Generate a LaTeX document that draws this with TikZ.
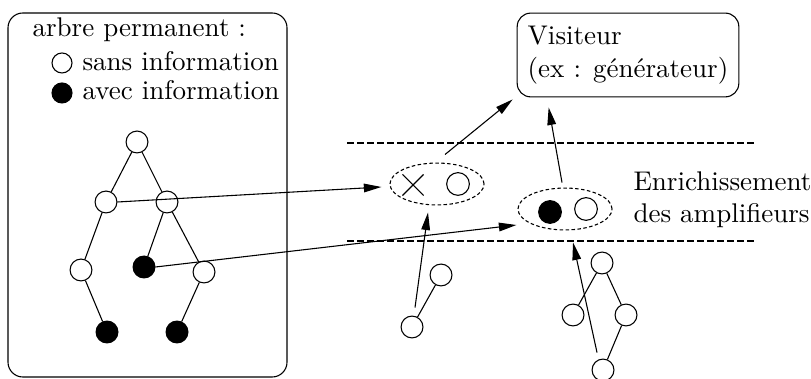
\documentclass[tikz,border=0pt]{standalone}
\usetikzlibrary{arrows.meta, shapes.geometric, shapes.misc}

\begin{document}
\begin{tikzpicture}[
    x=0.37pt, y=-0.37pt,
    vide/.style={circle, draw, fill=white, minimum size=8.1pt, inner sep=0pt},
    plein/.style={circle, draw, fill=black, minimum size=8.1pt, inner sep=0pt},
    groupe/.style={ellipse, draw, dash pattern=on 1.3pt off 0.9pt, minimum width=34.8pt, minimum height=15.5pt, inner sep=0pt},
    fleche/.style={-{Triangle[length=6.5pt, width=3.2pt]}},
    texte/.style={anchor=base west, inner sep=0pt},
]
    \useasboundingbox (0,0) rectangle (811,379);

    % arbre permanent
    \draw[rounded corners=5.5pt] (8,13) rectangle (287,377);
    \node[texte] (titre) at (32,37) {arbre permanent :};
    \node[vide, minimum size=7.4pt] (lvide) at (62,63) {};
    \node[texte] (tvide) at (82,71) {sans information};
    \node[plein, minimum size=7.4pt] (lplein) at (62,93) {};
    \node[texte] (tplein) at (82,100) {avec information};

    \node[vide] (r) at (137,142) {};
    \node[vide] (g) at (106,202) {};
    \node[vide] (d) at (167,202) {};
    \node[vide] (gg) at (81,270) {};
    \node[plein] (dg) at (144,267) {};
    \node[vide] (dd) at (204,272) {};
    \node[plein] (ggd) at (107,332) {};
    \node[plein] (ddg) at (177,332) {};
    \draw (r) -- (g) (r) -- (d) (g) -- (gg) (gg) -- (ggd)
          (d) -- (dg) (d) -- (dd) (dd) -- (ddg);

    % amplifieurs
    \draw[dash pattern=on 2.6pt off 1.1pt] (347,143) -- (755,143);
    \draw[dash pattern=on 2.6pt off 1.1pt] (347,241) -- (755,241);

    \node[groupe] (e1) at (437,184) {};
    \node[draw, cross out, minimum size=7.4pt, inner sep=0pt] (x1) at (413,185) {};
    \node[vide, minimum size=8.4pt] (o1) at (458,184) {};

    \node[groupe] (e2) at (565,209) {};
    \node[plein, minimum size=8.4pt] (p2) at (550,212) {};
    \node[vide, minimum size=8.4pt] (o2) at (586,209) {};

    \node[anchor=west, align=left, inner sep=0pt] (enr) at (633,200) {Enrichissement\\des amplifieurs};

    % visiteur
    \node[draw, rounded corners=5pt, minimum width=82pt, minimum height=31pt, align=left] (vis) at (628,55) {Visiteur\\(ex : générateur)};

    % arbres temporaires
    \node[vide] (a1) at (441,275) {};
    \node[vide] (a2) at (412,327) {};
    \draw (a1) -- (a2);

    \node[vide] (b1) at (602,263) {};
    \node[vide] (b2) at (573,315) {};
    \node[vide] (b3) at (626,315) {};
    \node[vide] (b4) at (603,370) {};
    \draw (b1) -- (b2) (b1) -- (b3) (b3) -- (b4);

    % fleches
    \draw[fleche] (g.east) -- ([shift={(-8,3)}]e1.west);
    \draw[fleche] (dg.east) -- ([shift={(-1,16)}]e2.west);
    \draw[fleche] ([shift={(3,-8)}]a2.north) -- ([shift={(-9,7)}]e1.south);
    \draw[fleche] ([shift={(-6,-6)}]b4.north) -- ([shift={(8,12)}]e2.south);
    \draw[fleche] ([shift={(8,-8)}]e1.north) -- ([shift={(-4,2)}]vis.south west);
    \draw[fleche] ([shift={(-3,-5)}]e2.north) -- ([shift={(32,10)}]vis.south west);
\end{tikzpicture}
\end{document}
